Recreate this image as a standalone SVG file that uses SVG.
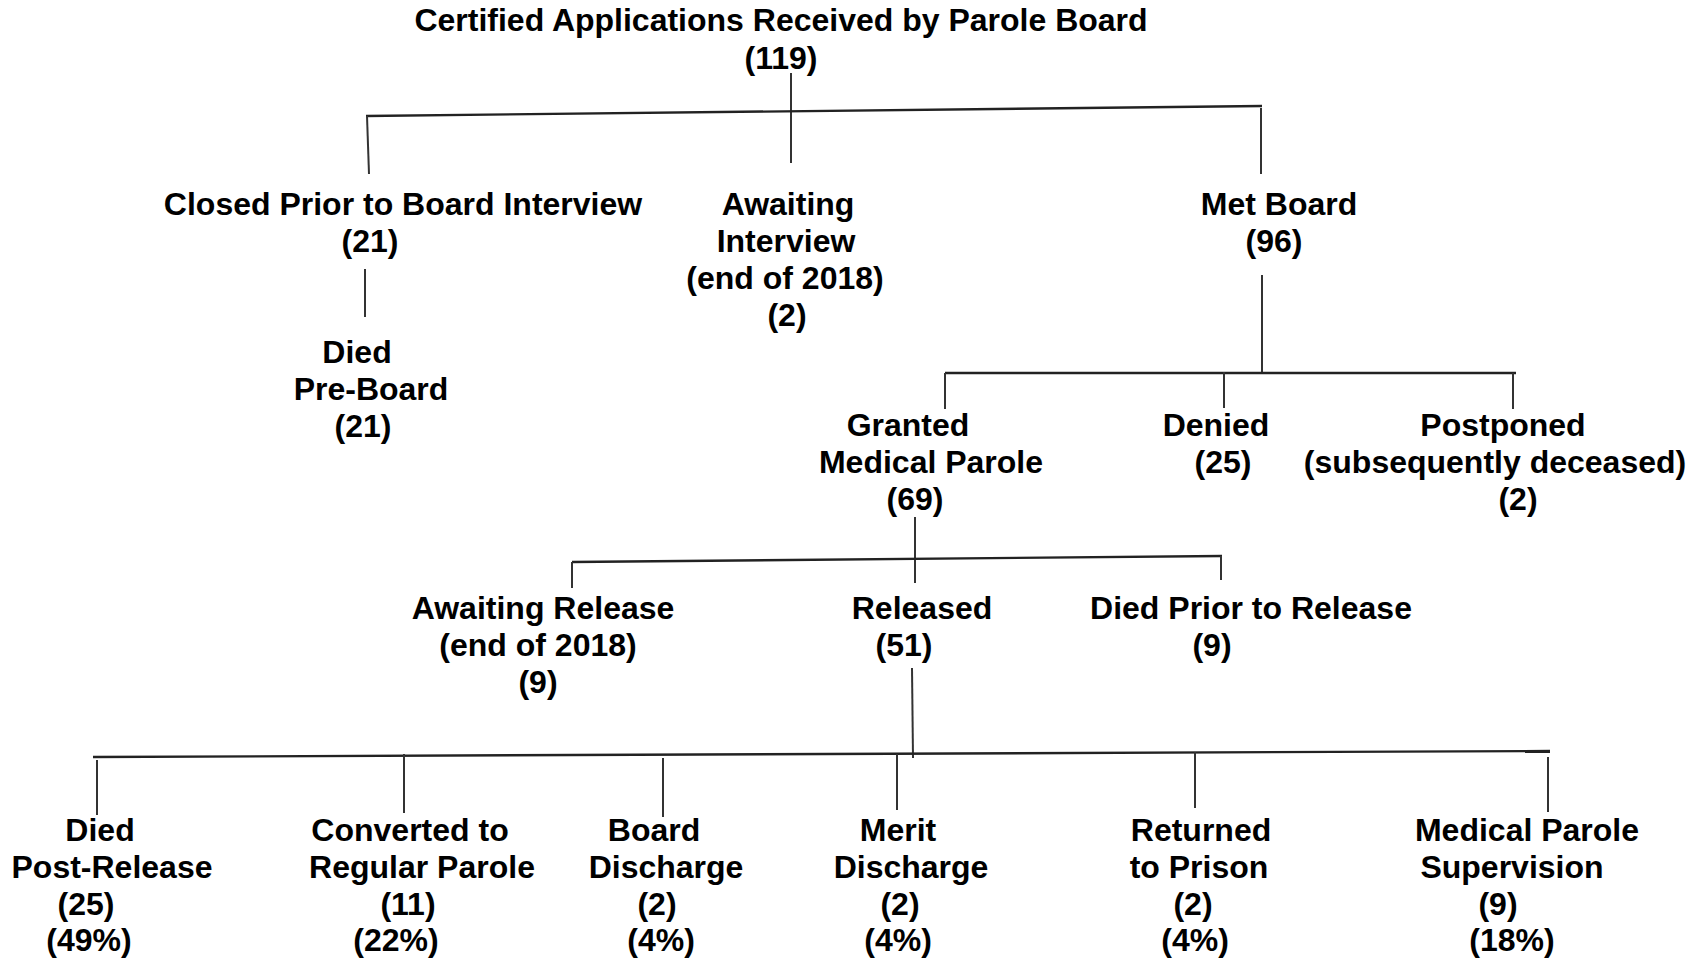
<svg xmlns="http://www.w3.org/2000/svg" width="1703" height="961" viewBox="0 0 1703 961">
<style>
text{font-family:"Liberation Sans",Arial,sans-serif;font-weight:bold;font-size:32px;fill:#000;text-anchor:middle}
.c line{stroke:#333;stroke-width:2;fill:none}
.c line.h{stroke:#222;stroke-width:2.4}
</style>
<rect width="1703" height="961" fill="#fff"/>
<g class="c" id="connectors">
<line x1="791" y1="73" x2="791" y2="163"/>
<line class="h" x1="366" y1="116" x2="1262" y2="106"/>
<line x1="367" y1="116" x2="369" y2="174"/>
<line x1="1261" y1="108" x2="1261" y2="174"/>
<line x1="365" y1="269" x2="365" y2="317"/>
<line x1="1262" y1="275" x2="1262" y2="373"/>
<line class="h" x1="945" y1="373" x2="1516" y2="373"/>
<line x1="945" y1="373" x2="945" y2="409"/>
<line x1="1224" y1="372" x2="1224" y2="408"/>
<line x1="1513" y1="373" x2="1513" y2="409"/>
<line x1="915" y1="517" x2="915" y2="583"/>
<line class="h" x1="572" y1="562" x2="1222" y2="556"/>
<line x1="572" y1="562" x2="572" y2="588"/>
<line x1="1221" y1="556" x2="1221" y2="580"/>
<line x1="912" y1="668" x2="913" y2="758"/>
<line class="h" x1="93" y1="757" x2="1550" y2="751"/>
<line x1="97" y1="760" x2="97" y2="815"/>
<line x1="404" y1="754" x2="404" y2="813"/>
<line x1="663" y1="758" x2="663" y2="817"/>
<line x1="897" y1="754" x2="897" y2="810"/>
<line x1="1195" y1="752" x2="1195" y2="808"/>
<line x1="1548" y1="757" x2="1548" y2="812"/>
</g>
<g id="root"><text x="781" y="31">Certified Applications Received by Parole Board</text><text x="781" y="69">(119)</text></g>
<g id="closed"><text x="403" y="215">Closed Prior to Board Interview</text><text x="370" y="252">(21)</text></g>
<g id="awaiting-interview"><text x="788" y="215">Awaiting</text><text x="786" y="252">Interview</text><text x="785" y="289">(end of 2018)</text><text x="787" y="326">(2)</text></g>
<g id="met-board"><text x="1279" y="215">Met Board</text><text x="1274" y="252">(96)</text></g>
<g id="died-pre-board"><text x="357" y="363">Died</text><text x="371" y="400">Pre-Board</text><text x="363" y="437">(21)</text></g>
<g id="granted"><text x="908" y="436">Granted</text><text x="931" y="473">Medical Parole</text><text x="915" y="510">(69)</text></g>
<g id="denied"><text x="1216" y="436">Denied</text><text x="1223" y="473">(25)</text></g>
<g id="postponed"><text x="1503" y="436">Postponed</text><text x="1495" y="473">(subsequently deceased)</text><text x="1518" y="510">(2)</text></g>
<g id="awaiting-release"><text x="543" y="619">Awaiting Release</text><text x="538" y="656">(end of 2018)</text><text x="538" y="693">(9)</text></g>
<g id="released"><text x="922" y="619">Released</text><text x="904" y="656">(51)</text></g>
<g id="died-prior"><text x="1251" y="619">Died Prior to Release</text><text x="1212" y="656">(9)</text></g>
<g id="died-post"><text x="100" y="841">Died</text><text x="112" y="878">Post-Release</text><text x="86" y="915">(25)</text><text x="89" y="951">(49%)</text></g>
<g id="converted"><text x="410" y="841">Converted to</text><text x="422" y="878">Regular Parole</text><text x="408" y="915">(11)</text><text x="396" y="951">(22%)</text></g>
<g id="board-discharge"><text x="654" y="841">Board</text><text x="666" y="878">Discharge</text><text x="657" y="915">(2)</text><text x="661" y="951">(4%)</text></g>
<g id="merit-discharge"><text x="898" y="841">Merit</text><text x="911" y="878">Discharge</text><text x="900" y="915">(2)</text><text x="898" y="951">(4%)</text></g>
<g id="returned"><text x="1201" y="841">Returned</text><text x="1199" y="878">to Prison</text><text x="1193" y="915">(2)</text><text x="1195" y="951">(4%)</text></g>
<g id="supervision"><text x="1527" y="841">Medical Parole</text><text x="1512" y="878">Supervision</text><text x="1498" y="915">(9)</text><text x="1512" y="951">(18%)</text></g>
</svg>
